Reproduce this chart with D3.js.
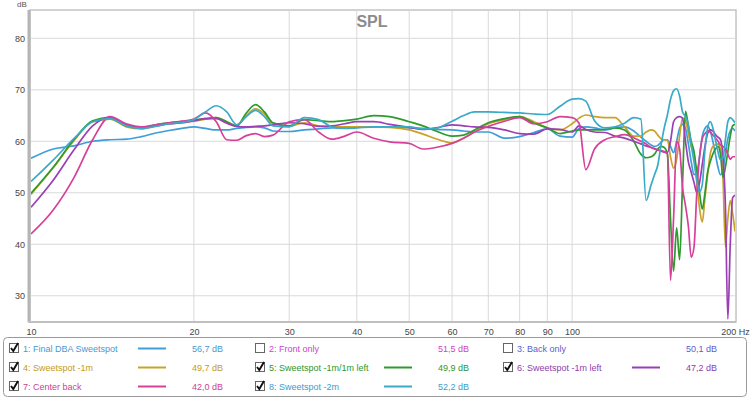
<!DOCTYPE html>
<html><head><meta charset="utf-8">
<script src="https://cdn.jsdelivr.net/npm/d3@7"></script>
<style>
body{margin:0;background:#fff;}
svg{display:block;font-family:"Liberation Sans",Arial,sans-serif;}
</style>
</head><body>
<svg id="chart" width="750" height="399"></svg>
<script>
// ---------- data ----------
const freqs = [10,11,12,13,14,15,16,17,18,19,20,21,22,23,24,25,26,27,28,30,32,34,36,38,40,43,46,50,53,56,60,63,66,70,75,80,85,90,95,100,103,106,110,115,120,125,130,134,137,140,142,144,146,148,150,152,154,156,158,160,162,164,166,168,170,172,174,176,178,180,182,184,186,188,190,192,194,196,198,200];

const finalDba = [56.7,58.5,59.1,60.0,60.3,60.4,60.9,61.6,62.1,62.5,62.8,62.5,62.2,62.2,62.5,62.7,62.8,62.6,62.0,
  61.9,62.2,62.4,62.6,62.6,62.7,
  62.8,62.8,62.6,62.5,62.3,62.2,62.0,61.8,61.8,60.6,60.9,61.7,62.4,61.0,60.8,
  62.5,62.8,62.6,62.2,62.6,62.8,62.0,60.8,60.0,
  59.3,59.0,59.2,59.8,60.3,60.3,59.0,57.8,60.0,62.5,63.3,62.5,59.5,56.0,53.5,54.0,57.0,61.0,62.5,63.0,62.0,60.0,57.5,55.0,53.5,54.5,57.5,60.5,62.0,62.5,62.0];

const sweet1m = [49.7,54.9,60.1,63.8,64.3,62.8,62.4,63.0,63.4,63.6,63.9,64.3,64.6,63.8,63.0,65.0,66.3,65.3,63.4,
  62.9,63.6,63.0,62.8,62.8,62.8,
  62.8,62.7,62.2,61.4,60.5,59.7,60.6,61.8,63.4,64.2,64.8,63.8,62.6,62.2,63.4,
  64.5,65.1,64.8,64.6,64.6,62.8,61.0,61.0,61.8,
  62.2,62.0,61.2,60.5,60.3,60.2,57.0,54.8,56.5,61.0,64.5,64.0,61.5,59.0,57.5,52.0,47.0,44.3,49.0,53.5,57.5,59.0,59.3,59.5,58.5,53.0,39.5,45.0,48.5,46.0,42.5];

const sweet1m1mLeft = [49.9,55.0,60.3,64.0,64.6,63.0,62.6,63.2,63.6,63.8,64.1,64.4,64.6,63.8,63.0,65.5,67.1,65.7,63.6,
  63.0,64.2,64.0,63.8,64.0,64.3,
  65.0,64.8,63.8,63.0,62.0,61.0,61.2,62.2,63.6,64.4,64.8,63.5,62.6,61.5,62.0,
  62.2,62.2,62.2,62.3,62.6,62.2,60.0,57.5,56.8,
  57.0,57.5,58.5,59.0,58.8,57.5,45.0,34.8,43.2,37.0,52.0,65.8,63.0,60.0,58.0,54.0,50.0,46.8,50.0,54.0,56.0,57.5,58.5,59.0,57.5,53.0,55.0,58.0,61.0,63.0,63.3];

const sweet1mLeft = [47.2,52.5,58.3,63.0,64.7,63.2,62.6,63.0,63.4,63.6,64.0,64.4,64.4,63.5,62.9,62.8,62.9,63.0,63.2,
  63.6,63.4,62.9,63.0,63.4,63.8,
  63.8,63.3,62.7,62.3,62.6,63.2,63.0,62.8,62.7,62.2,61.5,61.4,62.4,62.3,61.8,
  63.0,62.3,61.8,61.7,61.0,60.6,60.0,59.5,59.1,
  58.8,58.6,58.3,58.1,57.9,57.8,60.0,63.8,64.6,64.8,64.5,60.0,56.0,54.0,52.0,50.0,52.0,55.5,59.0,61.5,62.2,62.0,61.3,60.8,60.3,57.0,47.5,25.5,40.0,49.0,49.5];

const centerBack = [42.0,46.7,52.9,60.3,64.8,63.4,62.8,63.2,63.6,63.9,64.3,65.5,63.8,60.3,60.2,61.1,61.5,60.9,61.2,
  63.8,64.2,61.8,60.4,61.0,61.8,
  60.6,59.9,59.6,58.5,58.8,59.6,60.6,61.8,62.9,63.9,64.6,63.4,63.8,64.8,64.6,
  63.5,54.5,58.5,60.3,60.9,61.3,60.7,60.0,59.5,
  58.8,58.5,58.3,58.2,58.0,57.6,33.0,45.0,60.0,58.5,51.0,47.5,43.5,37.5,39.5,50.0,57.0,60.5,61.5,62.0,61.8,61.2,60.7,60.0,59.3,59.0,58.5,57.5,56.5,57.0,57.0];

const sweet2m = [52.2,56.4,60.5,63.8,64.4,63.0,62.5,62.9,63.4,63.7,64.2,65.7,66.9,65.7,63.2,64.8,66.0,64.8,63.0,
  62.8,64.6,64.2,62.8,62.5,62.6,
  62.8,62.8,62.8,62.4,62.5,63.9,65.0,65.7,65.7,65.6,65.5,65.3,65.2,66.8,68.2,
  68.3,67.8,64.0,62.6,62.8,63.5,64.6,64.3,48.5,
  51.6,53.5,55.4,59.3,62.6,65.1,68.1,69.8,70.2,68.8,65.7,64.8,63.2,59.3,56.0,52.5,50.2,51.6,58.3,62.6,63.8,62.6,60.3,58.0,56.4,56.8,60.3,63.8,64.6,64.2,63.6];

const seriesNames = ["1: Final DBA Sweetspot","2: Front only","3: Back only","4: Sweetspot -1m","5: Sweetspot -1m/1m left","6: Sweetspot -1m left","7: Center back","8: Sweetspot -2m"];
const seriesChecked = [true,false,false,true,true,true,true,true];
const legendValues = ["56,7 dB","51,5 dB","50,1 dB","49,7 dB","49,9 dB","47,2 dB","42,0 dB","52,2 dB"];
const seriesData = [finalDba,null,null,sweet1m,sweet1m1mLeft,sweet1mLeft,centerBack,sweet2m];

const xTicks = [10,20,30,40,50,60,70,80,90,100,200];
const yTicks = [30,40,50,60,70,80];

// ---------- styles ----------
const seriesColors = ["#3f9ed8","#cc44c8","#5c5cd0","#c9a227","#2e9a2e","#9a3fb4","#d6409a","#3aaac8"];
const textColors   = ["#4a98d2","#cc44c8","#5c5cd0","#c49a22","#2e962e","#8e3cae","#cc3f92","#3a9ec8"];

// ---------- chart ----------
const svg = d3.select("#chart");
const L = 31, R = 735, T = 11, B = 321;
const x = d3.scaleLog().domain([10,200]).range([L,R]);
const y = d3.scaleLinear().domain([25.1,85.3]).range([B,T]);

// grid
svg.append("g").selectAll("line").data(yTicks).join("line")
  .attr("x1",L).attr("x2",R).attr("y1",d=>y(d)).attr("y2",d=>y(d))
  .attr("stroke","#d9d9d9").attr("stroke-width",1);
svg.append("g").selectAll("line").data(xTicks.filter(d=>d>10&&d<200)).join("line")
  .attr("x1",d=>x(d)).attr("x2",d=>x(d)).attr("y1",T).attr("y2",B)
  .attr("stroke","#d9d9d9").attr("stroke-width",1);

// frame
svg.append("rect").attr("x",L-1).attr("y",T-1).attr("width",R-L+2).attr("height",B-T+2)
  .attr("fill","none").attr("stroke","#c4c4c4").attr("stroke-width",1.5);
svg.append("line").attr("x1",L-2).attr("x2",L-2).attr("y1",T-1).attr("y2",B+1)
  .attr("stroke","#b5b5b5").attr("stroke-width",3);
svg.append("line").attr("x1",L-3).attr("x2",R+1).attr("y1",B+1).attr("y2",B+1)
  .attr("stroke","#c0c0c0").attr("stroke-width",2);

// clip
svg.append("clipPath").attr("id","clip").append("rect")
  .attr("x",L).attr("y",T).attr("width",R-L).attr("height",B-T);

const line = d3.line().x(d=>x(d[0])).y(d=>y(d[1])).curve(d3.curveMonotoneX);
const gLines = svg.append("g").attr("clip-path","url(#clip)");
seriesData.forEach((vals,i)=>{
  if(!vals || !seriesChecked[i]) return;
  gLines.append("path")
    .datum(freqs.map((f,j)=>[f,vals[j]]))
    .attr("d",line).attr("fill","none")
    .attr("stroke",seriesColors[i]).attr("stroke-width",1.7)
    .attr("stroke-linejoin","round");
});

// axes
const xAxis = d3.axisBottom(x).tickValues(xTicks).tickSize(0).tickPadding(8)
  .tickFormat(d=> d===200 ? "200 Hz" : String(d));
const gx = svg.append("g").attr("transform",`translate(0,${B})`).call(xAxis);
gx.select(".domain").remove();
gx.selectAll("text").attr("fill","#444").attr("font-size",9).attr("font-family","Liberation Sans, Arial, sans-serif");

const yAxis = d3.axisLeft(y).tickValues(yTicks).tickSize(0).tickPadding(6);
const gy = svg.append("g").attr("transform",`translate(${L},0)`).call(yAxis);
gy.select(".domain").remove();
gy.selectAll("text").attr("fill","#444").attr("font-size",9).attr("font-family","Liberation Sans, Arial, sans-serif");

svg.append("text").attr("x",22).attr("y",7).attr("text-anchor","middle")
  .attr("font-size",8).attr("fill","#555").text("dB");

svg.append("text").attr("x",372).attr("y",27).attr("text-anchor","middle")
  .attr("font-size",16).attr("font-weight","bold").attr("fill","#8c8c8c").text("SPL");

// ---------- legend ----------
svg.append("rect").attr("x",3.5).attr("y",337.5).attr("width",743).attr("height",59)
  .attr("rx",4).attr("fill","#fff").attr("stroke","#9a9a9a").attr("stroke-width",1);

const colX = [9,255,503];
const rowY = [348,367,386];
seriesNames.forEach((name,i)=>{
  const c = i%3, r = Math.floor(i/3);
  const cx = colX[c], cy = rowY[r];
  const g = svg.append("g");
  g.append("rect").attr("x",cx+0.5).attr("y",cy-4.5).attr("width",9).attr("height",9)
    .attr("fill","#fff").attr("stroke","#666").attr("stroke-width",1);
  if(seriesChecked[i]){
    g.append("path").attr("d",`M${cx+2},${cy} L${cx+4.3},${cy+3} L${cx+9},${cy-5}`)
      .attr("fill","none").attr("stroke","#111").attr("stroke-width",1.9);
  }
  g.append("text").attr("x",cx+14).attr("y",cy+3.5).attr("font-size",9)
    .attr("fill",textColors[i]).text(name);
  if(seriesChecked[i]){
    g.append("line").attr("x1",cx+129).attr("x2",cx+157).attr("y1",cy+0.5).attr("y2",cy+0.5)
      .attr("stroke",seriesColors[i]).attr("stroke-width",2);
  }
  g.append("text").attr("x",cx+214).attr("y",cy+3.5).attr("font-size",9)
    .attr("text-anchor","end").attr("fill",textColors[i]).text(legendValues[i]);
});
</script>
</body></html>
